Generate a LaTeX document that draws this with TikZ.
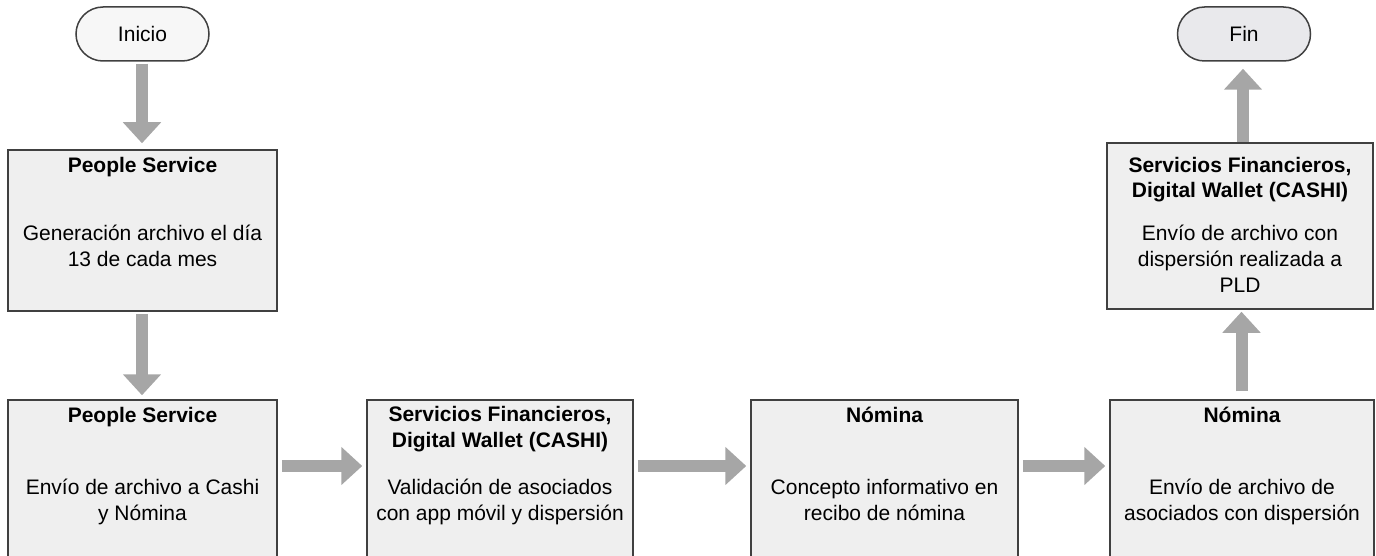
\documentclass[tikz,border=0pt]{standalone}
\usepackage{fontspec}
\setmainfont{Liberation Sans}
\usetikzlibrary{arrows.meta}
\definecolor{boxfill}{HTML}{EFEFEF}
\definecolor{boxline}{HTML}{404040}
\definecolor{arrowgray}{HTML}{A6A6A6}
\definecolor{startfill}{HTML}{F7F7F7}
\definecolor{endfill}{HTML}{E9E9EC}
\tikzset{
  procbox/.style={draw=boxline, fill=boxfill, line width=0.75pt, minimum width=#1, inner sep=0pt},
  term/.style={draw=boxline, line width=0.75pt, rounded corners=13.5pt, minimum width=66.5pt, minimum height=27pt, inner sep=0pt, font=\fontsize{10.5pt}{13pt}\selectfont},
  titletext/.style={anchor=base, align=center, inner sep=0pt, font=\fontsize{10.5pt}{13pt}\selectfont\bfseries},
  bodytext/.style={anchor=base, align=center, inner sep=0pt, font=\fontsize{10.5pt}{13pt}\selectfont},
  flow/.style={draw=arrowgray, line width=6pt, -{Triangle[width=18.5pt,length=10.5pt]}, arrowgray}
}
\begin{document}
\begin{tikzpicture}[x=0.5pt, y=-0.5pt]
\useasboundingbox (0,0) rectangle (1376,556);
% terminals
\node[term, fill=startfill] (inicio) at (142.5,34) {Inicio};
\node[term, fill=endfill] (fin) at (1244,34) {Fin};
% boxes
\node[procbox=134.5pt, minimum height=80.5pt] (b1) at (142.5,230.5) {};
\node[procbox=134.5pt, minimum height=85pt] (b2) at (142.5,485) {};
\node[procbox=133pt, minimum height=85pt] (b3) at (500,485) {};
\node[procbox=133.5pt, minimum height=85pt] (b4) at (884.5,485) {};
\node[procbox=132pt, minimum height=85pt] (b5) at (1242,485) {};
\node[procbox=133pt, minimum height=83pt] (b6) at (1240,226) {};
% texts (anchor base = baseline of the last line)
\node[titletext] (b1t) at (142.5,172) {People Service};
\node[bodytext] (b1b) at (142.5,266) {Generación archivo el día\\13 de cada mes};
\node[titletext] (b2t) at (142.5,422) {People Service};
\node[bodytext] (b2b) at (142.5,520) {Envío de archivo a Cashi\\y Nómina};
\node[titletext] (b3t) at (500,447) {Servicios Financieros,\\Digital Wallet (CASHI)};
\node[bodytext] (b3b) at (500,520) {Validación de asociados\\con app móvil y dispersión};
\node[titletext] (b4t) at (884.5,422) {Nómina};
\node[bodytext] (b4b) at (884.5,520) {Concepto informativo en\\recibo de nómina};
\node[titletext] (b5t) at (1242,422) {Nómina};
\node[bodytext] (b5b) at (1242,520) {Envío de archivo de\\asociados con dispersión};
\node[titletext] (b6t) at (1240,198) {Servicios Financieros,\\Digital Wallet (CASHI)};
\node[bodytext] (b6b) at (1240,292) {Envío de archivo con\\dispersión realizada a\\PLD};
% connectors
\draw[flow, shorten <=1pt, shorten >=3pt] ([xshift=-0.25pt]inicio.south) -- ([xshift=-0.25pt]b1.north);
\draw[flow, shorten <=1pt, shorten >=2pt] ([xshift=-0.25pt]b1.south) -- ([xshift=-0.25pt]b2.north);
\draw[flow, shorten <=2pt, shorten >=2pt] (b2.east |- 0,466) -- (b3.west |- 0,466);
\draw[flow, shorten <=2pt, shorten >=2pt] (b3.east |- 0,466) -- (b4.west |- 0,466);
\draw[flow, shorten <=2pt, shorten >=2pt] (b4.east |- 0,466) -- (b5.west |- 0,466);
\draw[flow, shorten <=4pt, shorten >=1pt] (b5.north -| 1241.5,0) -- (b6.south -| 1241.5,0);
\draw[flow, shorten <=0pt, shorten >=3.5pt] (b6.north -| 1243,0) -- (fin.south -| 1243,0);
\end{tikzpicture}
\end{document}
